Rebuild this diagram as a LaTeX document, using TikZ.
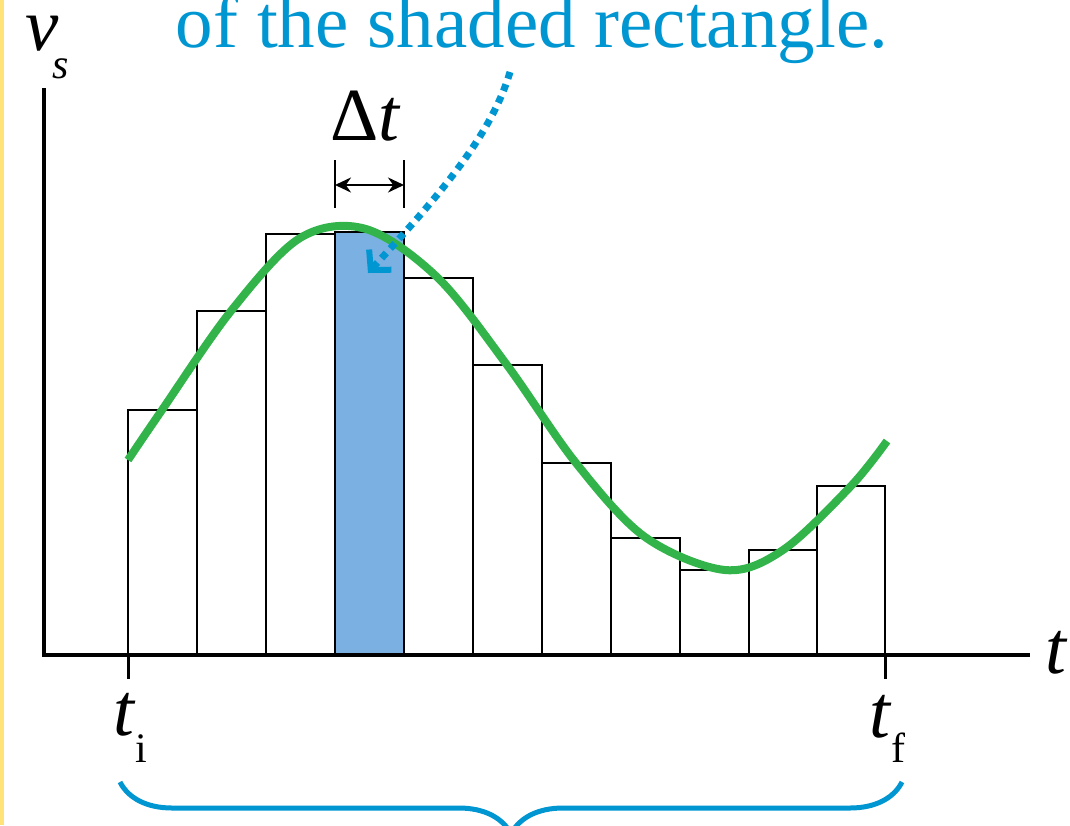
\documentclass[tikz,border=0pt]{standalone}
\usepackage{fontspec}
\setmainfont{Liberation Serif}
\newfontfamily\plotfont{Liberation Serif}
\usetikzlibrary{positioning,arrows.meta,decorations.pathreplacing}
\definecolor{areablue}{RGB}{0,150,210}
\definecolor{barblue}{RGB}{122,176,226}
\definecolor{curvegreen}{RGB}{50,180,75}
\definecolor{edgeyellow}{RGB}{255,226,120}

\begin{document}
\begin{tikzpicture}[x=1pt,y=-1pt, every node/.style={inner sep=0pt,font=\plotfont\fontsize{75}{80}\selectfont},
    bar/.style={draw,line width=2.5pt},
    subtext/.style={font=\plotfont\fontsize{42}{44}\selectfont}]
      \useasboundingbox (0,0) rectangle (1070,825);
      \fill[white] (0,0) rectangle (1070,825);
      \fill[edgeyellow] (0,0) rectangle (4,825);
      % rectangles under the curve
      \draw[bar] (128,655) rectangle (197,410);
      \draw[bar] (197,655) rectangle (266,311);
      \draw[bar] (266,655) rectangle (335,234);
      \draw[bar,fill=barblue] (335,655) rectangle (404,232);
      \draw[bar] (404,655) rectangle (473,278);
      \draw[bar] (473,655) rectangle (542,365);
      \draw[bar] (542,655) rectangle (611,463);
      \draw[bar] (611,655) rectangle (680,538);
      \draw[bar] (680,655) rectangle (749,570);
      \draw[bar] (749,655) rectangle (817,550);
      \draw[bar] (817,655) rectangle (885,486);
      % axes
      \draw[line width=4.5pt] (44,88) -- (44,655) -- (1030,655);
      \draw[line width=3pt] (128,655) -- (128,679);
      \draw[line width=3pt] (885,655) -- (885,679);
      \node[anchor=base west] (vlab) at (25,50) {\itshape v};
      \node[subtext,anchor=base west] (vsub) at (52,78) {\itshape s};
      \node[anchor=base west] (tlab) at (1045,673) {\itshape t};
      \node[anchor=base east] (tilab) at (135,735) {\itshape t};
      \node[subtext,anchor=base west] (tisub) at (tilab.base east) [yshift=-27pt] {i};
      \node[anchor=base east] (tflab) at (891,737) {\itshape t};
      \node[subtext,anchor=base west] (tfsub) at (tflab.base east) [yshift=-25pt] {f};
      % the curve
      \draw[curvegreen,line width=8pt] plot[smooth,tension=0.55] coordinates {(128,460) (162,410) (231,311) (300,238) (366,229) (438,278) (507,365) (576,463) (645,537) (725,570) (783,550) (851,486) (887,441)};
      % width of one step
      \draw[line width=2.5pt] (335,160) -- (335,208);
      \draw[line width=2.5pt] (404,160) -- (404,208);
      \coordinate (dimL) at (335,185);
      \coordinate (dimR) at (404,185);
      \draw[line width=2.5pt,{Stealth[length=16pt,width=15pt]}-{Stealth[length=16pt,width=15pt]}] (dimL) -- (dimR);
      \node[anchor=base] (dlab) at (366,140) {Δ\textit{t}};
      % label and pointer
      \node[anchor=base,text=areablue] (caption) at (532,47) {of the shaded rectangle.};
      \coordinate (ptrstart) at (510,72);
      \coordinate (ptrend) at (368,273);
      \draw[areablue,line width=7pt,dash pattern=on 7pt off 6pt,-{Straight Barb[length=14pt,width=30pt,line width=6pt]}] (ptrstart) .. controls (490,140) and (430,205) .. (ptrend);
      \draw[areablue,line width=5pt,decorate,decoration={brace,amplitude=52pt,mirror}] (120,782) -- (902,782);
    \end{tikzpicture}
\end{document}
